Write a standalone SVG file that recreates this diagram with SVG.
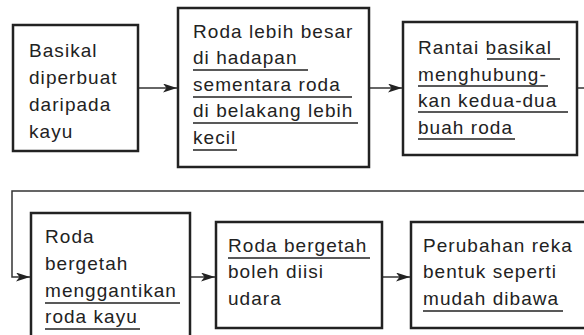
<svg xmlns="http://www.w3.org/2000/svg" width="584" height="335" viewBox="0 0 584 335">
<defs>
<marker id="ah" viewBox="0 0 14 9" refX="14" refY="4.5" markerWidth="14" markerHeight="9" markerUnits="userSpaceOnUse" orient="auto">
<path d="M0,0 L14,4.5 L0,9 L3.5,4.5 Z" fill="#222"/>
</marker>
</defs>
<style>
.box{fill:#fff;stroke:#222;stroke-width:2.5}
.t{font-family:"Liberation Sans",Arial,sans-serif;font-size:19px;fill:#222;letter-spacing:1.05px}
.u{stroke:#222;stroke-width:1.4}
.c{fill:none;stroke:#333;stroke-width:1.5}
</style>
<rect width="584" height="335" fill="#fff"/>
<g id="connectors">
<line class="c" x1="139" y1="88" x2="177" y2="88" marker-end="url(#ah)"/>
<line class="c" x1="370" y1="88" x2="402" y2="88" marker-end="url(#ah)"/>
<polyline class="c" points="578,88 586,88"/>
<polyline class="c" points="586,191 12,191 12,277 30,277" marker-end="url(#ah)"/>
<line class="c" x1="191" y1="277" x2="215" y2="277" marker-end="url(#ah)"/>
<line class="c" x1="383" y1="277" x2="410" y2="277" marker-end="url(#ah)"/>
</g>
<g id="n1">
<rect class="box" x="13" y="25" width="125" height="126"/>
<text class="t" x="29" y="57">Basikal</text>
<text class="t" x="29" y="84">diperbuat</text>
<text class="t" x="29" y="111">daripada</text>
<text class="t" x="29" y="138">kayu</text>
</g>
<g id="n2">
<rect class="box" x="178" y="8" width="191" height="159"/>
<text class="t" x="193" y="38">Roda lebih besar</text>
<text class="t" x="193" y="64">di hadapan</text>
<text class="t" x="193" y="91">sementara roda</text>
<text class="t" x="193" y="117">di belakang lebih</text>
<text class="t" x="193" y="144">kecil</text>
<line class="u" x1="193" y1="70" x2="308" y2="70"/>
<line class="u" x1="193" y1="97" x2="352" y2="97"/>
<line class="u" x1="193" y1="123" x2="358" y2="123"/>
<line class="u" x1="193" y1="150" x2="237" y2="150"/>
</g>
<g id="n3">
<rect class="box" x="403" y="22" width="174" height="133"/>
<text class="t" x="418" y="54">Rantai basikal</text>
<text class="t" x="418" y="81">menghubung-</text>
<text class="t" x="418" y="107">kan kedua-dua</text>
<text class="t" x="418" y="134">buah roda</text>
<line class="u" x1="487" y1="59" x2="560" y2="59"/>
<line class="u" x1="418" y1="86" x2="548" y2="86"/>
<line class="u" x1="418" y1="112" x2="568" y2="112"/>
<line class="u" x1="418" y1="139" x2="515" y2="139"/>
</g>
<g id="n4">
<rect class="box" x="31" y="213" width="159" height="130"/>
<text class="t" x="45" y="243">Roda</text>
<text class="t" x="45" y="270">bergetah</text>
<text class="t" x="45" y="297">menggantikan</text>
<text class="t" x="45" y="323">roda kayu</text>
<line class="u" x1="45" y1="303" x2="180" y2="303"/>
<line class="u" x1="45" y1="329" x2="140" y2="329"/>
</g>
<g id="n5">
<rect class="box" x="216" y="222" width="166" height="106"/>
<text class="t" x="228" y="252">Roda bergetah</text>
<text class="t" x="228" y="278">boleh diisi</text>
<text class="t" x="228" y="305">udara</text>
<line class="u" x1="228" y1="258" x2="370" y2="258"/>
</g>
<g id="n6">
<rect class="box" x="411" y="222" width="180" height="106"/>
<text class="t" x="423" y="252">Perubahan reka</text>
<text class="t" x="423" y="278">bentuk seperti</text>
<text class="t" x="423" y="305">mudah dibawa</text>
<line class="u" x1="423" y1="311" x2="563" y2="311"/>
</g>
</svg>
